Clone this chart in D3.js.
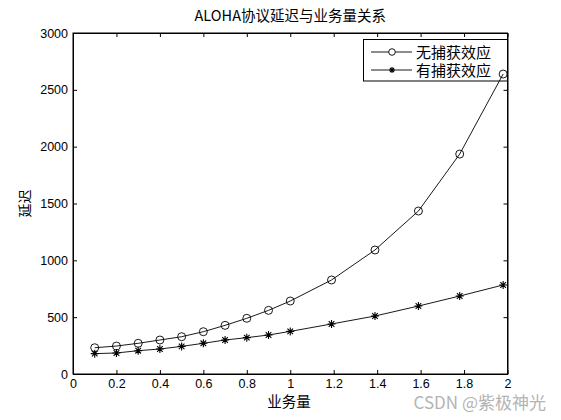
<!DOCTYPE html>
<html>
<head>
<meta charset="utf-8">
<script src="https://cdn.jsdelivr.net/npm/d3@7"></script>
<style>
  body { margin: 0; background: #fff; }
  svg text { font-family: "Liberation Sans", Arial, sans-serif; fill: #000; }
  .cjk { font-family: "Noto Sans CJK SC", sans-serif; }
</style>
</head>
<body>
<svg id="chart" width="561" height="420"></svg>
<script>
// traffic load (x) and delay values
var load = [0.1, 0.2, 0.3, 0.4, 0.5, 0.6, 0.7, 0.8, 0.9, 1.0, 1.19, 1.39, 1.59, 1.78, 1.98]
var noCapture = [231, 246, 270, 299, 328, 372, 428, 490, 560, 642, 827, 1091, 1434, 1935, 2639]
var withCapture = [179, 185, 205, 220, 243, 270, 299, 320, 343, 375, 440, 510, 598, 686, 783]
var xTicks = [0, 0.2, 0.4, 0.6, 0.8, 1, 1.2, 1.4, 1.6, 1.8, 2]
var yTicks = [0, 500, 1000, 1500, 2000, 2500, 3000]
var seriesNames = ["无捕获效应", "有捕获效应"]

var dims = { left: 73, right: 507.5, top: 33, bottom: 374 }

var svg = d3.select("#chart")

var xScale = d3.scaleLinear().domain([0, 2]).range([dims.left, dims.right])
var yScale = d3.scaleLinear().domain([0, 3000]).range([dims.bottom, dims.top])

var fmtX = d => String(d)

// axes: ticks point inward on all four sides (matlab box)
var xBottom = svg.append("g")
    .attr("transform", `translate(0,${dims.bottom})`)
    .call(d3.axisBottom(xScale).tickValues(xTicks).tickFormat(fmtX).tickSizeInner(-4).tickSizeOuter(0).tickPadding(5))
var xTop = svg.append("g")
    .attr("transform", `translate(0,${dims.top})`)
    .call(d3.axisTop(xScale).tickValues(xTicks).tickFormat("").tickSizeInner(-4).tickSizeOuter(0))
var yLeft = svg.append("g")
    .attr("transform", `translate(${dims.left},0)`)
    .call(d3.axisLeft(yScale).tickValues(yTicks).tickFormat(d3.format("d")).tickSizeInner(-4).tickSizeOuter(0).tickPadding(5))
var yRight = svg.append("g")
    .attr("transform", `translate(${dims.right},0)`)
    .call(d3.axisRight(yScale).tickValues(yTicks).tickFormat("").tickSizeInner(-4).tickSizeOuter(0))

svg.selectAll(".domain, .tick line").attr("stroke", "#000").attr("stroke-width", 1)
svg.selectAll(".tick text").style("font-size", "12.5px").attr("fill", "#000")

// box frame
svg.append("rect")
    .attr("x", dims.left).attr("y", dims.top)
    .attr("width", dims.right - dims.left).attr("height", dims.bottom - dims.top)
    .attr("fill", "none").attr("stroke", "#000").attr("stroke-width", 1)

function star(g, x, y, s) {
    var d = `M${x - s},${y}L${x + s},${y}M${x},${y - s}L${x},${y + s}` +
        `M${x - s * 0.7},${y - s * 0.7}L${x + s * 0.7},${y + s * 0.7}` +
        `M${x - s * 0.7},${y + s * 0.7}L${x + s * 0.7},${y - s * 0.7}`
    g.append("path").attr("d", d).attr("stroke", "#000").attr("stroke-width", 1.1).attr("fill", "none")
}

// legend (drawn first, the last circle sits over its corner in the original)
var lg = svg.append("g")
lg.append("rect")
    .attr("x", 363.5).attr("y", 39.5).attr("width", dims.right - 363.5).attr("height", 41.5)
    .attr("fill", "#fff").attr("stroke", "#000").attr("stroke-width", 1)
var rows = [52, 70]
rows.forEach(function(y, i) {
    lg.append("line").attr("x1", 371).attr("x2", 412).attr("y1", y).attr("y2", y)
        .attr("stroke", "#000").attr("stroke-width", 0.9)
    if (i == 0) {
        lg.append("circle").attr("cx", 392).attr("cy", y).attr("r", 3.3)
            .attr("fill", "#fff").attr("stroke", "#000").attr("stroke-width", 0.9)
    } else {
        star(lg, 392, y, 3)
    }
    lg.append("text").attr("class", "cjk")
        .attr("x", 416).attr("y", y + 5.5)
        .style("font-size", "15px")
        .text(seriesNames[i])
})

var line = d3.line()
    .x((d, i) => xScale(load[i]))
    .y(d => yScale(d))

svg.append("path").datum(noCapture)
    .attr("fill", "none").attr("stroke", "#000").attr("stroke-width", 0.9)
    .attr("d", line)
svg.append("path").datum(withCapture)
    .attr("fill", "none").attr("stroke", "#000").attr("stroke-width", 0.9)
    .attr("d", line)

svg.selectAll(".circ")
    .data(noCapture)
    .enter()
    .append("circle")
    .attr("cx", (d, i) => xScale(load[i]))
    .attr("cy", d => yScale(d))
    .attr("r", 4)
    .attr("fill", "none")
    .attr("stroke", "#000")
    .attr("stroke-width", 0.9)

withCapture.forEach(function(v, i) {
    star(svg, xScale(load[i]), yScale(v), 4)
})

// titles
svg.append("text").attr("class", "cjk")
    .attr("x", (dims.left + dims.right) / 2).attr("y", 21)
    .attr("text-anchor", "middle")
    .style("font-size", "14.5px")
    .text("ALOHA协议延迟与业务量关系")

svg.append("text").attr("class", "cjk")
    .attr("x", 289).attr("y", 407)
    .attr("text-anchor", "middle")
    .style("font-size", "14.5px")
    .text("业务量")

svg.append("text").attr("class", "cjk")
    .attr("transform", `translate(30,${(dims.top + dims.bottom) / 2}) rotate(-90)`)
    .attr("text-anchor", "middle")
    .style("font-size", "14px")
    .text("延迟")

// watermark
svg.append("text").attr("class", "cjk")
    .attr("x", 546).attr("y", 409)
    .attr("text-anchor", "end")
    .style("font-size", "17px")
    .style("fill", "#b4b4b4")
    .text("CSDN @紫极神光")
</script>
</body>
</html>
